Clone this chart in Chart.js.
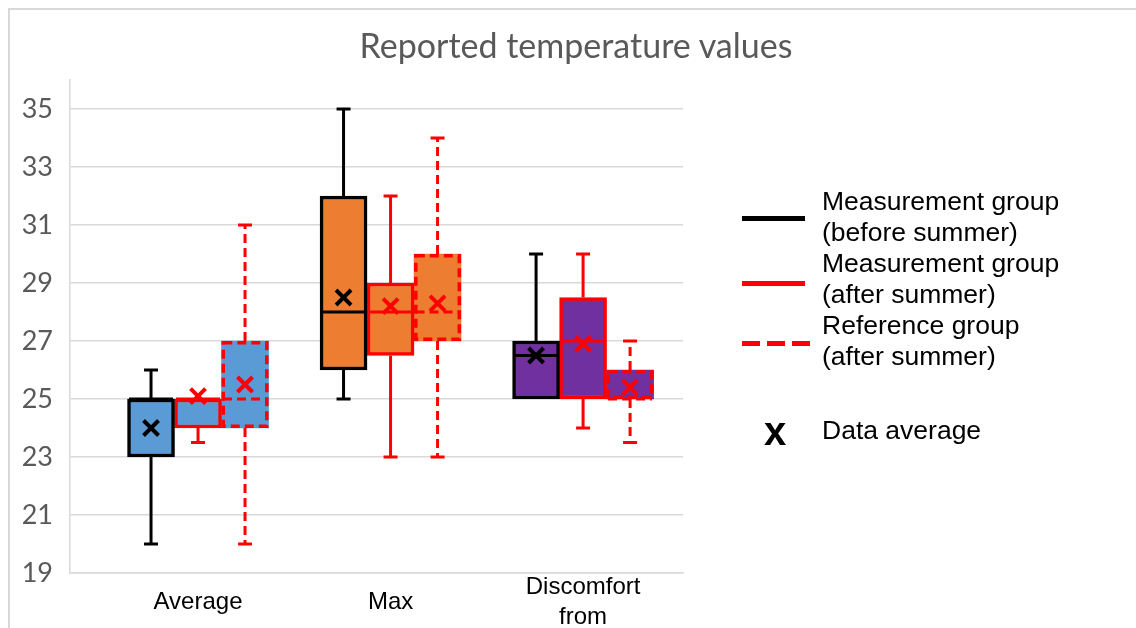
<!DOCTYPE html>
<html>
<head>
<meta charset="utf-8">
<script src="https://cdn.jsdelivr.net/npm/chart.js@4"></script>
<style>
    body { margin: 0; background: #fff; }
    #wrap { position: relative; width: 1136px; height: 628px; overflow: hidden; background: #fff; }
    #frame { position: absolute; left: 8px; top: 8px; width: 1200px; height: 700px;
             border-left: 2px solid #d9d9d9; border-top: 2px solid #d9d9d9; }
    #chartBox { position: absolute; left: 0; top: 0; width: 1136px; height: 628px; }
    #titulo { position: absolute; left: 0; width: 1152px; top: 24px; text-align: center;
              font: 34px Lato, sans-serif; color: #595959; line-height: 42px; }
    .lgline { position: absolute; left: 742px; width: 63px; height: 5px; }
    .lgtext { position: absolute; left: 822px; font: 26.5px "Liberation Sans", Arial, sans-serif;
              color: #000; line-height: 31px; white-space: nowrap; }
    #lgX { position: absolute; left: 764px; top: 409px; font: bold 40px "Liberation Sans", Arial, sans-serif; line-height: 44px; }
</style>
</head>
<body>
<div id="wrap">
    <div id="frame"></div>
    <div id="chartBox"><canvas id="grafica"></canvas></div>
    <div id="titulo">Reported temperature values</div>

    <div class="lgline" style="top:216px; background:#000;"></div>
    <div class="lgline" style="top:281px; background:#ff0000;"></div>
    <div class="lgline" style="top:341px; width:68px; background:repeating-linear-gradient(to right,#ff0000 0 18px,transparent 18px 25px);"></div>
    <div class="lgtext" style="top:186px;">Measurement group<br>(before summer)<br>Measurement group<br>(after summer)<br>Reference group<br>(after summer)</div>
    <div id="lgX">x</div>
    <div class="lgtext" style="top:415px;">Data average</div>
</div>

<script>
// ==========================================
// DATOS
// ==========================================
const categorias = ['Average', 'Max', ['Discomfort', 'from']];
const ticksY = [19, 21, 23, 25, 27, 29, 31, 33, 35];
const coloresCaja = ['#5B9BD5', '#ED7D31', '#7030A0'];

// Measurement group (before summer)
const antesMin = [20, 25, 25];
const antesQ1 = [23, 26, 25];
const antesMediana = [25, 28, 26.5];
const antesQ3 = [25, 32, 27];
const antesMax = [26, 35, 30];
const antesMedia = [24, 28.5, 26.5];

// Measurement group (after summer)
const despuesMin = [23.5, 23, 24];
const despuesQ1 = [24, 26.5, 25];
const despuesMediana = [25, 28, 27];
const despuesQ3 = [25, 29, 28.5];
const despuesMax = [25, 32, 30];
const despuesMedia = [25.1, 28.2, 26.9];

// Reference group (after summer)
const refMin = [20, 23, 23.5];
const refQ1 = [24, 27, 25];
const refMediana = [25, 28, 25];
const refQ3 = [27, 30, 26];
const refMax = [31, 34, 27];
const refMedia = [25.5, 28.3, 25.4];

const grupos = [
    { label: 'Measurement group (before summer)', color: '#000000', dash: [],
      min: antesMin, q1: antesQ1, med: antesMediana, q3: antesQ3, max: antesMax, media: antesMedia },
    { label: 'Measurement group (after summer)', color: '#ff0000', dash: [],
      min: despuesMin, q1: despuesQ1, med: despuesMediana, q3: despuesQ3, max: despuesMax, media: despuesMedia },
    { label: 'Reference group (after summer)', color: '#ff0000', dash: [9, 5],
      min: refMin, q1: refQ1, med: refMediana, q3: refQ3, max: refMax, media: refMedia }
];

// ==========================================
// PLUGIN: bigotes, medianas, medias
// ==========================================
const pluginCajas = {
    id: 'cajas',
    afterDatasetsDraw(chart) {
        const ctx = chart.ctx;
        const y = chart.scales.y;
        grupos.forEach((g, di) => {
            const meta = chart.getDatasetMeta(di);
            meta.data.forEach((bar, i) => {
                const cx = bar.x;
                const w = bar.width;
                const arriba = Math.min(bar.y, bar.base);
                const abajo = Math.max(bar.y, bar.base);
                const pMax = y.getPixelForValue(g.max[i]);
                const pMin = y.getPixelForValue(g.min[i]);
                const pMed = y.getPixelForValue(g.med[i]);
                const pMedia = y.getPixelForValue(g.media[i]);

                ctx.save();
                ctx.strokeStyle = g.color;
                ctx.lineWidth = 3;

                // bigotes
                ctx.setLineDash(g.dash);
                if (g.max[i] > g.q3[i]) {
                    ctx.beginPath(); ctx.moveTo(cx, arriba); ctx.lineTo(cx, pMax); ctx.stroke();
                }
                if (g.min[i] < g.q1[i]) {
                    ctx.beginPath(); ctx.moveTo(cx, abajo); ctx.lineTo(cx, pMin); ctx.stroke();
                }
                ctx.setLineDash([]);
                if (g.max[i] > g.q3[i]) {
                    ctx.beginPath(); ctx.moveTo(cx - 7, pMax); ctx.lineTo(cx + 7, pMax); ctx.stroke();
                }
                if (g.min[i] < g.q1[i]) {
                    ctx.beginPath(); ctx.moveTo(cx - 7, pMin); ctx.lineTo(cx + 7, pMin); ctx.stroke();
                }

                // borde punteado
                ctx.lineWidth = 3.5;
                ctx.setLineDash(g.dash);
                if (g.dash.length) {
                    ctx.strokeRect(cx - w / 2 + 1.75, arriba + 1.75, w - 3.5, abajo - arriba - 3.5);
                }

                // mediana
                ctx.lineWidth = 3;
                ctx.beginPath();
                ctx.moveTo(cx - w / 2 + 1.5, pMed);
                ctx.lineTo(cx + w / 2 - 1.5, pMed);
                ctx.stroke();

                // media (x)
                ctx.setLineDash([]);
                ctx.lineWidth = 4;
                const s = 7.5;
                ctx.beginPath();
                ctx.moveTo(cx - s, pMedia - s); ctx.lineTo(cx + s, pMedia + s);
                ctx.moveTo(cx - s, pMedia + s); ctx.lineTo(cx + s, pMedia - s);
                ctx.stroke();
                ctx.restore();
            });
        });
    }
};

// ==========================================
// GRAFICA
// ==========================================
const datasets = grupos.map(g => ({
    label: g.label,
    data: g.q1.map((v, i) => ({ x: i, y: [v, g.q3[i]] })),
    backgroundColor: coloresCaja,
    borderColor: g.color,
    borderWidth: g.dash.length ? 0 : 3.5,
    borderSkipped: false,
    barThickness: 47
}));

new Chart(document.getElementById('grafica'), {
    type: 'bar',
    data: { datasets },
    options: {
        responsive: true,
        maintainAspectRatio: false,
        animation: false,
        layout: { padding: { left: 0, right: 453, top: 80, bottom: 0 } },
        scales: {
            x: {
                type: 'linear',
                offset: false,
                min: -0.665,
                max: 2.519,
                afterBuildTicks: axis => { axis.ticks = categorias.map((c, i) => ({ value: i })); },
                afterFit: scale => { scale.height = 55; },
                grid: { display: false, offset: false },
                border: { display: true, color: '#d9d9d9', width: 1.5 },
                ticks: {
                    autoSkip: false,
                    maxRotation: 0,
                    padding: 6,
                    crossAlign: 'center',
                    color: '#000',
                    font: { family: 'Liberation Sans', size: 24, lineHeight: 1.25 },
                    callback: v => categorias[v]
                }
            },
            y: {
                min: 19,
                max: 36,
                afterBuildTicks: axis => { axis.ticks = ticksY.map(v => ({ value: v })); },
                afterFit: scale => { scale.width = 70; },
                grid: { color: '#d9d9d9', lineWidth: 1.5, drawTicks: false },
                border: { display: true, color: '#d9d9d9', width: 1.5 },
                ticks: {
                    padding: 17,
                    color: '#595959',
                    font: { family: 'Lato', size: 27 }
                }
            }
        },
        plugins: {
            legend: { display: false },
            tooltip: { enabled: false }
        }
    },
    plugins: [pluginCajas]
});
</script>
</body>
</html>
